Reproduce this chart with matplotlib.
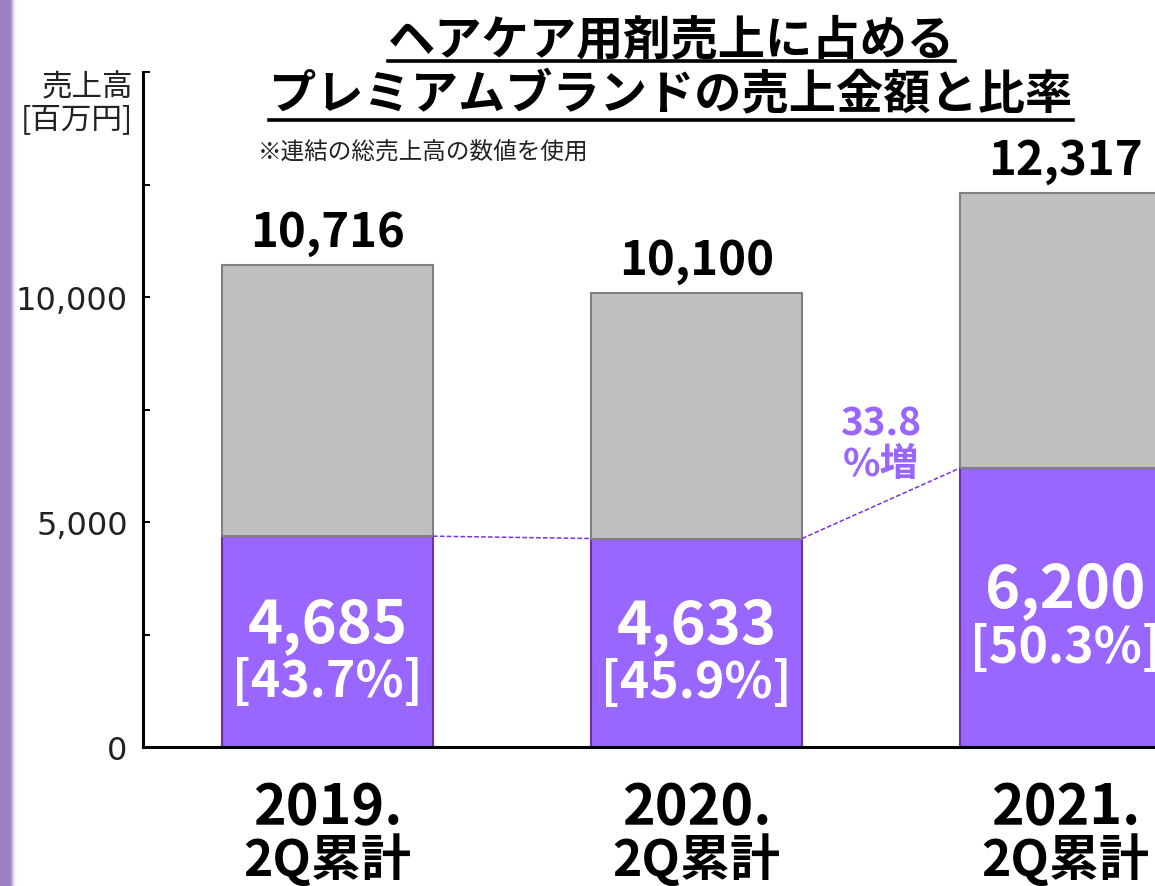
import matplotlib
matplotlib.use('Agg')
import matplotlib.pyplot as plt
import numpy as np
from matplotlib.lines import Line2D
from matplotlib.colors import LinearSegmentedColormap

plt.rcParams['font.family'] = ['Noto Sans CJK JP', 'DejaVu Sans']

# ---------------- data ----------------
years = ['2019.', '2020.', '2021.']
periods = ['2Q累計', '2Q累計', '2Q累計']
totals = [10716, 10100, 12317]
premium = [4685, 4633, 6200]
ratios = ['43.7%', '45.9%', '50.3%']
growth_label = '33.8\n%増'
title_lines = ['ヘアケア用剤売上に占める', 'プレミアムブランドの売上金額と比率']
note = '※連結の総売上高の数値を使用'
ylabel = '売上高\n[百万円]'
yticks = [0, 5000, 10000, 15000]
ytick_labels = ['0', '5,000', '10,000', '']
yminor = [2500, 7500, 12500]

PURPLE = '#9966FF'
PURPLE_EDGE = '#7030A0'
GRAY = '#BFBFBF'
GRAY_EDGE = '#808080'

W, H = 1155, 887
fig = plt.figure(figsize=(W / 100, H / 100), dpi=100)
PT = 100 / 72.0  # px per point


def fx(x):
    return x / W


def fy(y):
    return 1 - y / H


# left decorative strip
sax = fig.add_axes([0, 0, 17 / W, 1])
sax.set_axis_off()
cmap = LinearSegmentedColormap.from_list(
    'strip', [(0, '#9A80C2'), (0.62, '#9C84C4'), (0.74, '#C9BCE0'), (0.86, '#F3F0F8'), (1, '#FFFFFF')])
grad = np.linspace(0, 1, 64)[None, :]
sax.imshow(grad, aspect='auto', cmap=cmap, extent=[0, 1, 0, 1])

# main axes
ax = fig.add_axes([fx(143), fy(748), 1107 / W, 675 / H])
ax.set_xlim(-0.5, 2.5)
ax.set_ylim(0, 15000)
x = np.arange(len(totals))
w = 211 / 369
rest = [t - p for t, p in zip(totals, premium)]
ax.bar(x, premium, width=w, color=PURPLE, edgecolor=PURPLE_EDGE, linewidth=1.5, zorder=2)
ax.bar(x, rest, bottom=premium, width=w, color=GRAY, edgecolor=GRAY_EDGE, linewidth=1.5, zorder=2)

# dashed connectors
for i in range(len(x) - 1):
    ax.plot([x[i] + w / 2, x[i + 1] - w / 2], [premium[i], premium[i + 1]],
            linestyle=(0, (3, 1.5)), color='#7B2FE0', linewidth=1.1, zorder=3)

# spines & ticks
for s in ['top', 'right']:
    ax.spines[s].set_visible(False)
for s in ['left', 'bottom']:
    ax.spines[s].set_linewidth(2.2)
    ax.spines[s].set_color('black')
ax.set_xticks([])
ax.set_yticks(yticks)
ax.set_yticklabels(ytick_labels, fontfamily='DejaVu Sans')
ax.set_yticks(yminor, minor=True)
ax.tick_params(axis='y', which='both', direction='in', length=5, width=1.4,
               labelsize=23, labelcolor='#222222', pad=11)

# total labels
for xi, t in zip(x, totals):
    ax.annotate(f'{t:,}', (xi, t), xytext=(0, 6), textcoords='offset points',
                ha='center', va='bottom', fontsize=34, fontweight='bold', color='black',
                annotation_clip=False)

# inside labels
for xi, p, r in zip(x, premium, ratios):
    ax.annotate(f'{p:,}', (xi, p / 2), xytext=(0, 17 / PT), textcoords='offset points',
                ha='center', va='center', fontsize=43, fontweight='bold', color='white',
                annotation_clip=False)
    ax.annotate(f'[{r}]', (xi, p / 2), xytext=(0, -40 / PT), textcoords='offset points',
                ha='center', va='center', fontsize=36, fontweight='bold', color='white',
                annotation_clip=False)

# growth label
ax.text(1.5, 6750, growth_label, ha='center', va='center', multialignment='center',
        fontsize=28, fontweight='bold', color=PURPLE, linespacing=1.05)

# x category labels
for xi, yr, pr in zip(x, years, periods):
    ax.annotate(yr, (xi, 0), xycoords=('data', 'axes fraction'), xytext=(0, -60 / PT),
                textcoords='offset points', ha='center', va='center',
                fontsize=40, fontweight='bold', color='black', annotation_clip=False)
    ax.annotate(pr, (xi, 0), xycoords=('data', 'axes fraction'), xytext=(0, -113 / PT),
                textcoords='offset points', ha='center', va='center',
                fontsize=36, fontweight='bold', color='black', annotation_clip=False)

# y unit label
fig.text(fx(133), fy(72), ylabel, ha='right', va='top', fontsize=22, color='#222222',
         linespacing=1.05, multialignment='right')

# note
fig.text(fx(258), fy(153), note, ha='left', va='center', fontsize=17, color='#222222')

# title
t1 = fig.text(fx(671), fy(40), title_lines[0], ha='center', va='center', fontsize=34,
              fontweight='bold', color='black')
t2 = fig.text(fx(671), fy(95), title_lines[1], ha='center', va='center', fontsize=34,
              fontweight='bold', color='black')

fig.canvas.draw()
r = fig.canvas.get_renderer()
for t, uy in [(t1, 62), (t2, 121)]:
    bb = t.get_window_extent(r)
    fig.add_artist(Line2D([bb.x0 / W, bb.x1 / W], [fy(uy), fy(uy)], color='black',
                          linewidth=2.6, transform=fig.transFigure))

fig.savefig('out.png', dpi=100)
